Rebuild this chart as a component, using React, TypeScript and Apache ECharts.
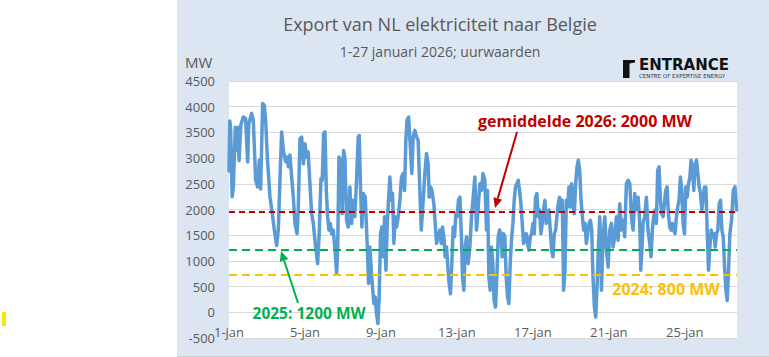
import React, { useEffect, useRef } from "react";
import * as echarts from "echarts";

// Hour index since 1 jan 00:00 (at turning points)
const HOURS: number[] = [
  0, 1, 2, 4, 5.5, 8, 10, 11.5, 12.7, 15, 18, 21, 23.6, 25, 28.6, 30.7, 33.7, 36.2, 38.3, 40,
  42.5, 44.6, 46.3, 48.5, 51.8, 54.7, 57.3, 60.2, 62.3, 64.8, 66.5, 69, 71.6, 73.3, 75, 77, 79.2,
  81.3, 83.4, 86, 87.6, 89.7, 91.8, 94, 96, 98, 100, 102.3, 104.4, 106.5, 109.5, 112, 114, 116.2,
  117.9, 119.6, 121.3, 123, 124.6, 126.3, 128, 129.7, 131.8, 134, 136, 137.3, 139, 141, 143,
  144.8, 146.5, 148.6, 150.7,
  152.8, 155, 157, 159, 161, 163.3, 164.6, 166.3, 168, 169.7, 172.2, 174.8, 176.4, 178, 179.8,
  181.4, 183.1, 184.8, 186.5, 188.2, 189.8, 191.5, 193.2, 194.9, 196.6, 198.3, 200, 201.6, 203.3,
  205, 206.7, 208.4, 210, 211.8, 213.9, 216, 218, 220, 221.9, 223.5, 225, 227, 229.4, 231, 232.8,
  234.9, 237, 239, 241.2, 243, 245.4, 247.5, 249.6, 251.7, 253, 254.7, 256.4, 258.9, 260.6, 262.3,
  264.4, 266.5, 268.2, 269.8, 271.5, 273.2, 274.9, 276.6, 278.2, 279.9, 281.6, 283.3, 285, 286.7,
  288.4, 290, 291.8, 293.9, 295.1, 296.8, 298.5, 300.2, 302.3, 304.4, 306.5, 308.6, 310.7,
  312.8, 315, 317, 319, 321, 323.3, 325.4, 326.7, 328.4, 330, 331.8, 333.4, 335, 336.8, 338.5,
  340.2, 341.9, 343.6, 345.2, 346.9, 348.6, 350.3, 352, 353.7, 355.4, 357, 358.8, 360.4, 362.1,
  363.8, 365.5, 367.2, 368.9, 370.6, 372.2, 373.9, 375.6, 377.3, 379, 380.7, 382.4, 384.1, 385.8,
  387.4, 389.1, 390.8, 392.5, 394.2, 395.9, 397.6, 399.2, 400.9, 402.6, 404.3, 406, 407.7, 409.4,
  411.1, 412.8, 414.4, 416.1, 417.8, 419.5, 421.2, 422.9, 424.6, 426.3, 428, 429.6, 431.3, 433,
  434.7, 436.4, 438.1, 439.8, 441.5, 443.2, 444.9, 446.6, 448.2, 449.9, 451.6, 453.3, 455, 456.7,
  458.4, 460, 461.8, 463.5, 465.1, 466.8,
  468.6, 470.7, 472.8, 475, 477, 479.1, 481.2, 483.3, 485.4, 487.5, 489.6, 491.7, 493.8, 495.9,
  498, 500.1, 502.2, 504.4, 506.5, 508.6, 510.7, 512.8, 514.9, 517, 519.1, 520.4, 522, 523.3,
  525.4, 527.5, 529.6, 531.7, 533.4, 535, 536.8, 538.4, 540.1, 541.8, 543.5, 545.2, 546.9, 548.6,
  550.2, 551.9, 553.6, 555.3, 557, 558.7, 560.4, 562, 563.7, 565.4, 567.1, 568.8, 570.5, 572.2,
  573.9, 575.6, 577.3, 579, 580.7, 582.4, 584, 585.7, 587.4, 589.1, 590.8, 592.5, 594.2, 595.9,
  597.6, 599.2, 600.9, 602.6, 604.3, 606, 607.7, 609.4, 611.1, 612.8, 614.4, 616.1, 617.8, 619.5,
  621.2, 622.9, 624.6, 626.3, 628, 629.6, 631.3, 633, 635.1, 637.3, 639.4, 641.5,
];

// Export NL -> Belgium, MW
const EXPORT_MW: number[] = [
  2750, 3720, 3600, 2250, 2450, 3600, 3150, 3600, 2950, 3650, 3800, 3770, 2925, 3670, 3870, 3740, 2570, 2440, 2960, 2400,
  4060, 4030, 3740, 3000, 2240, 1920, 1600, 1300, 1600, 2760, 3510, 3120, 2930, 3020, 2830, 3060, 2630,
  2240, 1730, 1530, 2050, 3380, 3410, 2890, 3280, 3020, 3120, 2500, 1920, 1730, 1270, 950, 1530, 2600,
  2570, 3480, 3510, 2370, 1860, 1600, 1730, 1530, 1600, 1210, 750, 1210, 3020, 2960, 1920,
  3150, 2990, 1790, 1660,
  2440, 1730, 2180, 1860, 2500, 3410, 3440, 2370, 1660, 2310, 2240, 1270, 560, 1270, 820,
  490, 170, 300, -30, -220, 300, 1530, 1660, 1080, 1860, 820, 1730, 2180, 2630,
  2180, 2310, 1340, 1860, 1660, 1860, 2180, 2630, 2700, 2370, 3350, 3740, 3800, 3150, 2700, 3410,
  3540, 3410, 3350, 2370, 1600, 2180, 2700, 3090, 2890, 2240, 2440, 2370, 2110, 1730, 1340,
  1470, 1600, 1340, 1660, 1470, 1080, 1270, 880, 560, 360, 950, 1660, 1470, 1920,
  1860, 2180, 2240, 1400, 690, 430, 1270, 1470, 950, 1270, 1860, 2240, 2630,
  1600, 2050, 2500, 2370, 2700, 2570, 1600, 2370, 690, 430, 1270, 950, 230, 100, 690,
  1470, 1600, 1530, 1080, 1530, 1470, 690, 300, 170, 950, 1400, 1730, 2180, 2440,
  2500, 2570, 2370, 2110, 1730, 1340, 1470, 1530, 1340, 1210, 1470, 1530, 1730, 1530,
  2240, 2310, 1860, 1990, 1530, 1730, 1990, 2180, 1730, 1920, 1990, 1600, 1210, 1080,
  1530, 1600, 1860, 2110, 2240, 1990, 2180, 430, 820, 2180, 2050, 2440, 2050, 2500,
  2110, 1920, 2500, 2830, 2960, 2760, 2180, 1860, 1600, 1730, 1340, 1530, 1730, 1790,
  1600, 690, 100, -90, 490, 1270,
  1860, 430, 1530, 1860, 1210, 880, 1600, 1730, 1270, 1470, 1860, 1400, 2110, 1600,
  1790, 1470, 2500, 2570, 2500, 1860, 1600, 2310, 1990, 2240, 1730, 820, 1270, 1730,
  1860, 2240, 1600, 1340, 1080, 1600, 1860, 1990, 1730, 2760, 2830, 2180, 1920, 1860,
  2110, 2370, 2440, 1920, 1660, 1600, 1730, 1600, 1530, 1860, 2050, 2180, 2630, 2370,
  1730, 1530, 2440, 2240, 2500, 2630, 2960, 2760, 2370, 2890, 2960, 2700, 2440, 2310,
  1990, 2240, 2440, 2440, 1600, 820, 1270, 1600, 1470, 1530, 1270, 1530, 1600, 2110,
  2180, 1600, 1470, 880, 430, 230, 820, 1530, 1790, 2370, 2440, 1990,
];

const AVG_2026 = 1950;
const AVG_2025 = 1210;
const AVG_2024 = 740;

const Y_TICKS = { min: -500, max: 4500, step: 500 };
const X_MAX_HOUR = 642;
const DAY_LABEL_STEP_HOURS = 96;

const TITLE = "Export van NL elektriciteit naar Belgie";
const SUBTITLE = "1-27 januari 2026; uurwaarden";
const LABEL_2026 = "gemiddelde 2026: 2000 MW";
const LABEL_2025 = "2025: 1200 MW";
const LABEL_2024 = "2024: 800 MW";

function arrow(x1: number, y1: number, x2: number, y2: number, color: string) {
  const dx = x2 - x1;
  const dy = y2 - y1;
  const len = Math.sqrt(dx * dx + dy * dy);
  const ux = dx / len;
  const uy = dy / len;
  const hl = 10;
  const hw = 4.5;
  const bx = x2 - ux * hl;
  const by = y2 - uy * hl;
  return [
    {
      type: "line",
      shape: { x1, y1, x2: bx, y2: by },
      style: { stroke: color, lineWidth: 2 },
      z: 100,
    },
    {
      type: "polygon",
      shape: {
        points: [
          [x2, y2],
          [bx - uy * hw, by + ux * hw],
          [bx + uy * hw, by - ux * hw],
        ],
      },
      style: { fill: color },
      z: 100,
    },
  ];
}

export default function App() {
  const ref = useRef<HTMLDivElement>(null);
  useEffect(() => {
    if (!ref.current) return;
    const chart = echarts.init(ref.current, undefined, { renderer: "svg" });
    const data = HOURS.map((h, i) => [h, EXPORT_MW[i]]);
    const font = "Open Sans";
    chart.setOption({
      animation: false,
      backgroundColor: "#dce6f2",
      textStyle: { fontFamily: font },
      grid: {
        left: 229,
        right: 32,
        top: 81,
        bottom: 19,
        show: true,
        backgroundColor: "#ffffff",
        borderWidth: 0,
      },
      xAxis: {
        type: "value",
        min: 0,
        max: X_MAX_HOUR,
        interval: DAY_LABEL_STEP_HOURS,
        axisLine: { show: false },
        axisTick: { show: false },
        splitLine: { show: false },
        axisLabel: {
          color: "#595959",
          fontSize: 13,
          fontFamily: font,
          margin: -6,
          verticalAlign: "middle",
          showMaxLabel: false,
          formatter: (v: number) =>
            v % DAY_LABEL_STEP_HOURS === 0 ? `${v / 24 + 1}-jan` : "",
        },
      },
      yAxis: {
        type: "value",
        min: Y_TICKS.min,
        max: Y_TICKS.max,
        interval: Y_TICKS.step,
        axisLine: { show: false },
        axisTick: { show: false },
        splitLine: { lineStyle: { color: "#d9d9d9", width: 1 } },
        axisLabel: {
          color: "#595959",
          fontSize: 13,
          fontFamily: font,
          margin: 14,
          formatter: (v: number) => String(v),
        },
      },
      series: [
        {
          type: "line",
          data,
          showSymbol: false,
          symbol: "none",
          lineStyle: { color: "#5b9bd5", width: 3.5, join: "round", cap: "round" },
          markLine: {
            silent: true,
            symbol: ["none", "none"],
            label: { show: false },
            emphasis: { disabled: true },
            data: [
              { yAxis: AVG_2026, lineStyle: { color: "#c00000", type: [6, 4], width: 2 } },
              { yAxis: AVG_2025, lineStyle: { color: "#00b050", type: [8, 5], width: 2 } },
              { yAxis: AVG_2024, lineStyle: { color: "#ffc000", type: [8, 5], width: 2 } },
            ],
          },
        },
      ],
      graphic: [
        { type: "rect", shape: { x: 0, y: 0, width: 177, height: 357 }, style: { fill: "#ffffff" }, z: 50 },
        { type: "rect", shape: { x: 177, y: 356, width: 592, height: 1 }, style: { fill: "#d0d0d0" }, z: 50 },
        { type: "rect", shape: { x: 2, y: 312, width: 4, height: 14 }, style: { fill: "#ffe600" }, z: 51 },
        {
          type: "text",
          x: 440,
          y: 24,
          style: { text: TITLE, font: `18px "${font}"`, fill: "#595959", textAlign: "center", textVerticalAlign: "middle" },
          z: 60,
        },
        {
          type: "text",
          x: 440,
          y: 51,
          style: { text: SUBTITLE, font: `14px "${font}"`, fill: "#595959", textAlign: "center", textVerticalAlign: "middle" },
          z: 60,
        },
        {
          type: "text",
          x: 185,
          y: 62,
          style: { text: "MW", font: `15px "${font}"`, fill: "#595959", textAlign: "left", textVerticalAlign: "middle" },
          z: 60,
        },
        {
          type: "polygon",
          shape: { points: [[623, 60], [635, 60], [635, 62.5], [629.5, 63.5], [629.5, 78], [623, 78]] },
          style: { fill: "#111111" },
          z: 60,
        },
        {
          type: "text",
          x: 639,
          y: 65,
          style: { text: "ENTRANCE", font: `bold 15px "DejaVu Sans"`, fill: "#111111", textAlign: "left", textVerticalAlign: "middle" },
          z: 60,
        },
        {
          type: "text",
          x: 639,
          y: 75.5,
          style: { text: "CENTRE OF EXPERTISE ENERGY", font: `5.5px "DejaVu Sans"`, fill: "#333333", textAlign: "left", textVerticalAlign: "middle" },
          z: 60,
        },
        {
          type: "text",
          x: 585,
          y: 121,
          style: { text: LABEL_2026, font: `bold 16px "${font}"`, fill: "#c00000", textAlign: "center", textVerticalAlign: "middle" },
          z: 100,
        },
        {
          type: "text",
          x: 309,
          y: 312.5,
          style: { text: LABEL_2025, font: `bold 15.5px "${font}"`, fill: "#00b050", textAlign: "center", textVerticalAlign: "middle" },
          z: 100,
        },
        {
          type: "text",
          x: 666,
          y: 289,
          style: { text: LABEL_2024, font: `bold 16px "${font}"`, fill: "#ffc000", textAlign: "center", textVerticalAlign: "middle" },
          z: 100,
        },
        ...arrow(517, 132, 495, 208, "#c00000"),
        ...arrow(298, 303, 281, 251, "#00b050"),
      ],
    });
    return () => chart.dispose();
  }, []);
  return (
    <div
      ref={ref}
      style={{ position: "absolute", left: 0, top: 0, width: 769, height: 357 }}
    />
  );
}
